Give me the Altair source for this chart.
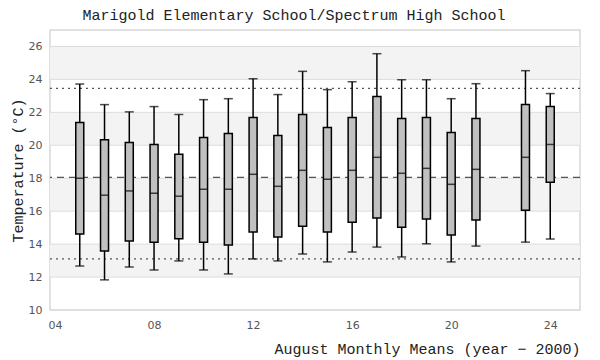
import altair as alt
import pandas as pd

years = [5, 6, 7, 8, 9, 10, 11, 12, 13, 14, 15, 16, 17, 18, 19, 20, 21, 23, 24]
low = [12.67, 11.83, 12.61, 12.43, 12.98, 12.43, 12.19, 13.10, 12.98, 13.40,
       12.92, 13.52, 13.82, 13.22, 14.02, 12.92, 13.88, 14.12, 14.31]
q1 = [14.61, 13.58, 14.19, 14.12, 14.33, 14.12, 13.94, 14.73, 14.43, 15.09,
      14.73, 15.33, 15.58, 15.03, 15.52, 14.55, 15.46, 16.06, 17.75]
median = [18.00, 16.97, 17.23, 17.09, 16.91, 17.33, 17.33, 18.24, 17.51, 18.48,
          17.94, 18.48, 19.27, 18.30, 18.60, 17.63, 18.54, 19.27, 20.05]
q3 = [21.38, 20.33, 20.17, 20.05, 19.45, 20.48, 20.72, 21.69, 20.60, 21.87,
      21.08, 21.69, 22.96, 21.63, 21.69, 20.78, 21.63, 22.47, 22.35]
high = [23.72, 22.47, 22.03, 22.35, 21.87, 22.77, 22.83, 24.04, 23.08, 24.49,
        23.38, 23.86, 25.56, 23.98, 23.98, 22.83, 23.74, 24.53, 23.14]

band_lo = [12, 16, 20, 24]
band_hi = [14, 18, 22, 26]

ref_values = [23.45, 18.05, 13.1]
ref_kind = ["dot", "dash", "dot"]

x_ticks = [4, 8, 12, 16, 20, 24]
y_ticks = [10, 12, 14, 16, 18, 20, 22, 24, 26]

W, H = 530, 280
MONO = "Liberation Mono"
SANS = "DejaVu Sans"

df = pd.DataFrame({"year": years, "low": low, "q1": q1, "median": median, "q3": q3, "high": high})
bands = pd.DataFrame({"lo": band_lo, "hi": band_hi})
refs = pd.DataFrame({"v": ref_values, "kind": ref_kind})
grid = pd.DataFrame({"v": y_ticks})

xscale = alt.Scale(domain=[4, 25], nice=False, zero=False)
yscale = alt.Scale(domain=[10, 27], nice=False, zero=False)

xaxis = alt.Axis(values=x_ticks, grid=False, ticks=False, domain=False,
                 labelExpr="datum.value < 10 ? '0' + datum.value : '' + datum.value",
                 labelFont=SANS, labelFontSize=11, labelColor="#555", labelPadding=9,
                 title="August Monthly Means (year \u2212 2000)", titleFont=MONO,
                 titleFontSize=15, titleFontWeight="normal", titleColor="#222",
                 titleAnchor="end", titleAlign="right", titlePadding=11)
yaxis = alt.Axis(values=y_ticks, grid=False, ticks=False, domain=False, labelOverlap=False,
                 labelFont=SANS, labelFontSize=11, labelColor="#555", labelPadding=8,
                 title="Temperature (\u00b0C)", titleFont=MONO, titleFontSize=15,
                 titleFontWeight="normal", titleColor="#222", titlePadding=3)


def Y(field):
    return alt.Y(field, scale=yscale, axis=yaxis)


def X(field):
    return alt.X(field, scale=xscale, axis=xaxis)


band_layer = alt.Chart(bands).mark_rect(color="#f3f3f3").encode(
    x=alt.value(0), x2=alt.value(W), y=Y("lo:Q"), y2="hi:Q")

grid_layer = alt.Chart(grid).mark_rule(color="#dddddd", strokeWidth=1).encode(y=Y("v:Q"))

ref_dot = alt.Chart(refs[refs.kind == "dot"]).mark_rule(
    color="#555", strokeWidth=1.2, strokeDash=[2, 4]).encode(y=Y("v:Q"))
ref_dash = alt.Chart(refs[refs.kind == "dash"]).mark_rule(
    color="#555", strokeWidth=1.2, strokeDash=[7, 5]).encode(y=Y("v:Q"))

base = alt.Chart(df)
whisk = base.mark_rule(color="black", strokeWidth=1.5).encode(
    x=X("year:Q"), y=Y("low:Q"), y2="high:Q")
cap_lo = base.mark_tick(orient="horizontal", size=9, thickness=1.5, color="black").encode(
    x=X("year:Q"), y=Y("low:Q"))
cap_hi = base.mark_tick(orient="horizontal", size=9, thickness=1.5, color="black").encode(
    x=X("year:Q"), y=Y("high:Q"))
box = base.mark_bar(size=8, fill="#c0c0c0", stroke="black", strokeWidth=1.5).encode(
    x=X("year:Q"), y=Y("q1:Q"), y2="q3:Q")
med = base.mark_tick(orient="horizontal", size=8, thickness=1.5, color="black").encode(
    x=X("year:Q"), y=Y("median:Q"))

chart = alt.layer(band_layer, grid_layer, ref_dot, ref_dash, whisk, cap_lo, cap_hi, box, med).properties(
    width=W, height=H,
    autosize=alt.AutoSizeParams(type="none"),
    padding={"left": 42, "top": 22, "right": 10, "bottom": 48},
    title=alt.TitleParams("Marigold Elementary School/Spectrum High School", font=MONO,
                          fontSize=15, fontWeight="normal", color="#222",
                          anchor="middle", offset=7, dx=-21),
).configure_view(stroke="#d8d8d8", strokeWidth=1.5)

chart.save("out.html", embed_options={"renderer": "svg", "actions": False})
